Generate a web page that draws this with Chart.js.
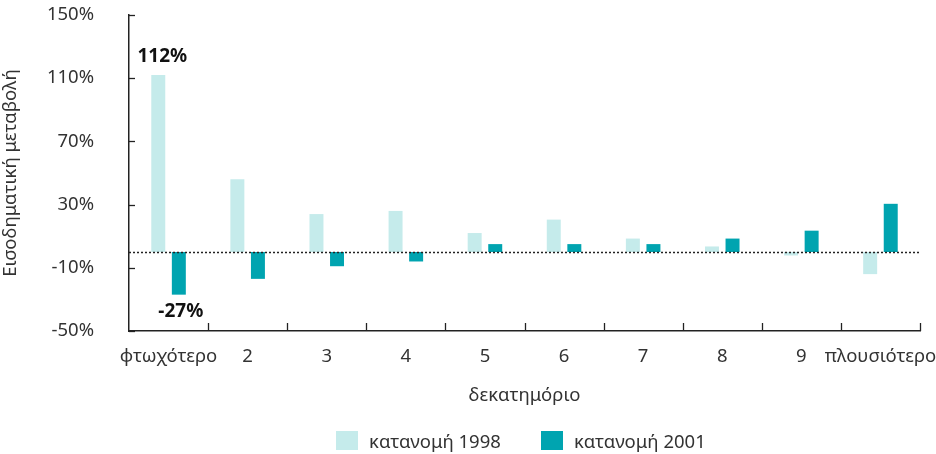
<!DOCTYPE html>
<html>
<head>
<meta charset="utf-8">
<script src="https://cdn.jsdelivr.net/npm/chart.js@4"></script>
<style>
  body { margin: 0; background: #fff; }
  #wrap { position: relative; width: 936px; height: 454px; }
  #legend { position: absolute; top: 428px; left: 336px; display: flex; font-family: "Noto Sans", sans-serif; font-size: 18.5px; color: #333; }
  .item { display: flex; align-items: center; margin-right: 40px; }
  .box { width: 22px; height: 19px; margin-right: 11px; }
</style>
</head>
<body>
<div id="wrap">
  <canvas id="chart" width="936" height="454"></canvas>
  <div id="legend"></div>
</div>
<script>
// data
const deciles = ["φτωχότερο", "2", "3", "4", "5", "6", "7", "8", "9", "πλουσιότερο"];
const dist1998 = [112, 46, 24, 26, 12, 20.5, 8.5, 3.5, -2.2, -14];
const dist2001 = [-27, -17, -9, -6, 5, 5, 5, 8.5, 13.5, 30.5];
const yTicks = [-50, -10, 30, 70, 110, 150];
const seriesNames = ["κατανομή 1998", "κατανομή 2001"];
const colors = ["#c5ebeb", "#00a4b0"];

const FONT = "'Noto Sans', sans-serif";
const TEXT = "#333";

// zero line, inner tick marks and the two callout labels
const extras = {
    id: "extras",
    afterDatasetsDraw(chart) {
        const ctx = chart.ctx;
        const area = chart.chartArea;
        const x = chart.scales.x, y = chart.scales.y;
        ctx.save();
        // dotted line at 0
        const y0 = Math.round(y.getPixelForValue(0)) + 0.5;
        ctx.strokeStyle = "#222";
        ctx.lineWidth = 1.3;
        ctx.setLineDash([2, 2]);
        ctx.beginPath();
        ctx.moveTo(area.left, y0);
        ctx.lineTo(area.right, y0);
        ctx.stroke();
        ctx.setLineDash([]);
        // ticks pointing inward
        y.ticks.forEach(t => {
            const py = Math.round(y.getPixelForValue(t.value)) + 0.5;
            ctx.beginPath();
            ctx.moveTo(area.left, py);
            ctx.lineTo(area.left + 6, py);
            ctx.stroke();
        });
        for (let i = 1; i <= deciles.length; i++) {
            const px = Math.round(x.getPixelForValue(i - 0.5)) + 0.5;
            ctx.beginPath();
            ctx.moveTo(px, area.bottom);
            ctx.lineTo(px, area.bottom - 8);
            ctx.stroke();
        }
        // callouts
        ctx.fillStyle = "#111";
        ctx.font = "bold 19px " + FONT;
        ctx.textAlign = "center";
        ctx.textBaseline = "middle";
        const b1 = chart.getDatasetMeta(0).data[0];
        const b2 = chart.getDatasetMeta(1).data[0];
        ctx.fillText(dist1998[0] + "%", b1.x + 4, b1.y - 18);
        ctx.fillText(dist2001[0] + "%", b2.x + 2, b2.y + 17);
        ctx.restore();
    }
};

const chart = new Chart(document.getElementById("chart"), {
    type: "bar",
    data: {
        labels: deciles,
        datasets: [
            { label: seriesNames[0], data: dist1998, backgroundColor: colors[0] },
            { label: seriesNames[1], data: dist2001, backgroundColor: colors[1] }
        ]
    },
    options: {
        responsive: false,
        animation: false,
        categoryPercentage: 0.52,
        barPercentage: 0.68,
        layout: { padding: { top: 15, right: 16, bottom: 41, left: 0 } },
        plugins: {
            legend: { display: false },
            tooltip: { enabled: false }
        },
        scales: {
            x: {
                offset: true,
                grid: { display: false, drawTicks: false },
                border: { display: true, color: "#222", width: 1.5 },
                ticks: { color: TEXT, font: { family: FONT, size: 18.5 }, padding: 15, maxRotation: 0, autoSkip: false },
                title: { display: true, text: "δεκατημόριο", color: TEXT, font: { family: FONT, size: 18.5 }, padding: { top: 0, bottom: 6 } },
                afterFit: s => { s.height = 82; s.paddingLeft = 0; s.paddingRight = 0; }
            },
            y: {
                min: -50,
                max: 150,
                afterBuildTicks: s => { s.ticks = yTicks.map(v => ({ value: v })); },
                grid: { display: false, drawTicks: false },
                border: { display: true, color: "#222", width: 1.5 },
                ticks: { color: TEXT, font: { family: FONT, size: 18.5 }, padding: 35, callback: v => v + "%" },
                title: { display: true, text: "Εισοδηματική μεταβολή", color: TEXT, font: { family: FONT, size: 18.5 }, padding: { top: 0, bottom: 0 } },
                afterFit: s => { s.width = 129; s.paddingTop = 0; s.paddingBottom = 0; }
            }
        }
    },
    plugins: [extras]
});

// legend
const legend = document.getElementById("legend");
chart.data.datasets.forEach(ds => {
    const item = document.createElement("div");
    item.className = "item";
    item.innerHTML = '<span class="box" style="background:' + ds.backgroundColor + '"></span><span>' + ds.label + '</span>';
    legend.appendChild(item);
});
</script>
</body>
</html>
